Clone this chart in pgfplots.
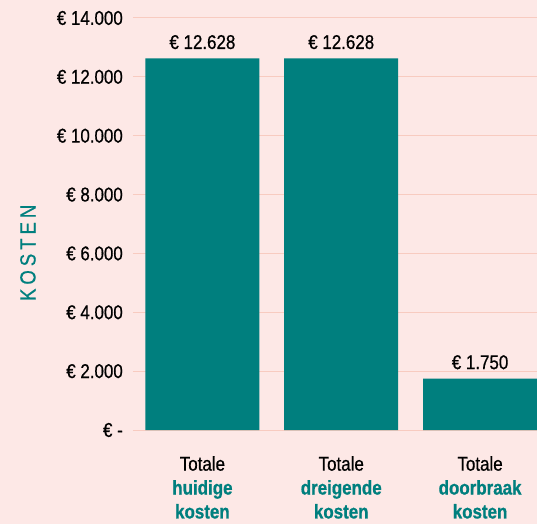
\documentclass[border=0pt]{standalone}
\usepackage{pgfplots}
\pgfplotsset{compat=1.18}
\usepackage{fontspec}
\setmainfont[FakeStretch=0.85,FakeBold=0.6,BoldFeatures={FakeBold=0.8}]{Liberation Sans}
\newfontfamily\spacedfont[FakeStretch=0.85,FakeBold=0.5,LetterSpace=18]{Liberation Sans}
\definecolor{bgc}{HTML}{FDE8E6}
\definecolor{tealc}{HTML}{007F7E}
\definecolor{gridc}{HTML}{F8CBC0}
\begin{document}
\begin{tikzpicture}
\path[use as bounding box, fill=bgc] (-133bp,-94bp) rectangle (404bp,430bp);
\begin{axis}[
  at={(0,0)}, anchor=south west,
  scale only axis, width=404bp, height=412bp,
  xmin=-0.5, xmax=2.41, ymin=0, ymax=14000,
  scaled y ticks=false,
  axis line style={draw=none}, tick style={draw=none},
  ymajorgrids, grid style={gridc, line width=1bp},
  ytick={0,2000,4000,6000,8000,10000,12000,14000},
  yticklabels={€ -, € 2.000, € 4.000, € 6.000, € 8.000, € 10.000, € 12.000, € 14.000},
  yticklabel style={font=\fontsize{20}{24}\selectfont, inner sep=0pt, xshift=-10bp},
  xtick={0,1,2},
  xticklabels={
    {Totale\\\textbf{\color{tealc}huidige}\\\textbf{\color{tealc}kosten}},
    {Totale\\\textbf{\color{tealc}dreigende}\\\textbf{\color{tealc}kosten}},
    {Totale\\\textbf{\color{tealc}doorbraak}\\\textbf{\color{tealc}kosten}}},
  xticklabel style={align=center, font=\fontsize{20}{24}\selectfont, inner sep=0pt, yshift=-26bp},
  ylabel={\spacedfont KOSTEN},
  ylabel style={font=\fontsize{22}{26}\selectfont, color=tealc, at={(axis description cs:-0.26,0.43)}, anchor=center},
  clip=false,
]
\addplot[ybar, bar width=114bp, fill=tealc, draw=none,
  nodes near coords, point meta=explicit symbolic,
  nodes near coords style={font=\fontsize{20}{24}\selectfont, color=black, anchor=south, inner sep=0pt, yshift=9bp}]
  coordinates {(0,12628) [€ 12.628] (1,12628) [€ 12.628] (2,1750) [€ 1.750]};
\end{axis}
\end{tikzpicture}
\end{document}
